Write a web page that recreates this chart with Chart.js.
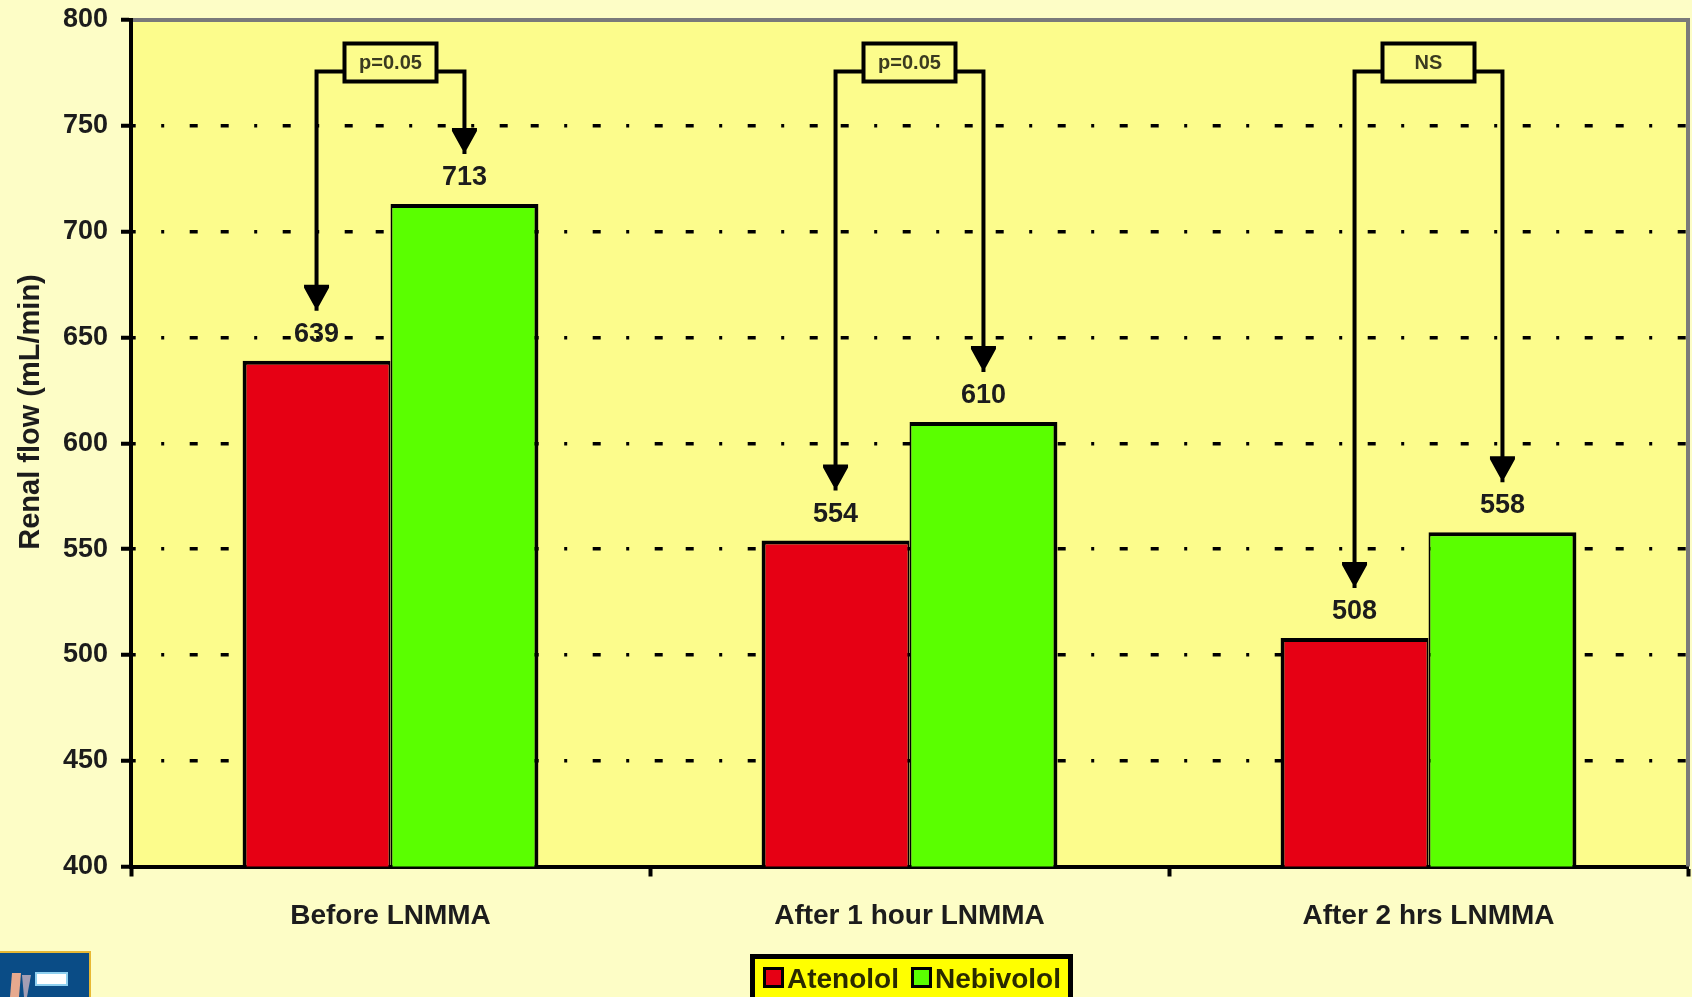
<!DOCTYPE html>
<html>
<head>
<meta charset="utf-8">
<title>Renal flow – Atenolol vs Nebivolol</title>
<script src="https://cdn.jsdelivr.net/npm/chart.js@4.4.1/dist/chart.umd.min.js"></script>
<style>
  html, body { margin: 0; padding: 0; background: #FDFDC6; }
  #wrap { position: relative; width: 1692px; height: 997px; }
  canvas { display: block; }
</style>
</head>
<body>
<div id="wrap"><canvas id="flowChart" width="1692" height="997"></canvas></div>
<script>
// ---- data ----
const categories = ['Before LNMMA', 'After 1 hour LNMMA', 'After 2 hrs LNMMA'];
const seriesNames = ['Atenolol', 'Nebivolol'];
const atenolol = [639, 554, 508];
const nebivolol = [713, 610, 558];
const flowTicks = [400, 450, 500, 550, 600, 650, 700, 750, 800];
const comparisons = ['p=0.05', 'p=0.05', 'NS'];
const yTitle = 'Renal flow (mL/min)';

// ---- styles ----
const FONT = '"Liberation Sans", Arial, Helvetica, sans-serif';
const PAGE_BG = '#FDFDC6';
const PLOT_BG = '#FCFC8C';
const RED = '#E60014';
const GREEN = '#5AFF00';
const TEXT = '#1c1c1c';
const GRID_DASH = [8, 25.5, 3, 25.5, 8, 23, 8, 25.5, 3, 25.5];

// page + plot background, drawn first
const backdrop = {
  id: 'backdrop',
  beforeDraw(chart) {
    const { ctx, chartArea: a } = chart;
    ctx.save();
    ctx.fillStyle = PAGE_BG;
    ctx.fillRect(0, 0, chart.width, chart.height);
    ctx.fillStyle = PLOT_BG;
    ctx.fillRect(a.left, a.top, a.right - a.left, a.bottom - a.top);
    ctx.restore();
  }
};

// value labels, comparison brackets, frame, legend, axis title, corner logo
const overlay = {
  id: 'overlay',
  afterDatasetsDraw(chart) {
    const { ctx, chartArea: a } = chart;
    const xs = chart.scales.x;
    const metas = [chart.getDatasetMeta(0), chart.getDatasetMeta(1)];

    ctx.save();
    // value labels above each bar
    ctx.fillStyle = TEXT;
    ctx.font = 'bold 27px ' + FONT;
    ctx.textAlign = 'center';
    ctx.textBaseline = 'alphabetic';
    metas.forEach((m, d) => {
      m.data.forEach((bar, i) => {
        const v = chart.data.datasets[d].data[i];
        ctx.fillText(String(v), bar.x, bar.y - 19);
      });
    });

    // brackets with arrow heads and the comparison box
    const head = (x, yTop) => {
      ctx.beginPath();
      ctx.moveTo(x - 12.5, yTop);
      ctx.lineTo(x + 12.5, yTop);
      ctx.lineTo(x + 12.5, yTop + 3);
      ctx.lineTo(x + 2, yTop + 22);
      ctx.lineTo(x + 2, yTop + 26);
      ctx.lineTo(x - 2, yTop + 26);
      ctx.lineTo(x - 2, yTop + 22);
      ctx.lineTo(x - 12.5, yTop + 3);
      ctx.closePath();
      ctx.fill();
    };
    const lineY = a.top + 51.5;
    const boxW = 92, boxH = 38, boxTop = a.top + 23.5;
    categories.forEach((c, i) => {
      const barA = metas[0].data[i], barN = metas[1].data[i];
      const cx = xs.getPixelForValue(i);
      const headA = barA.y - 76, headN = barN.y - 76;
      ctx.strokeStyle = '#000';
      ctx.fillStyle = '#000';
      ctx.lineWidth = 4;
      ctx.lineJoin = 'miter';
      ctx.lineCap = 'butt';
      ctx.setLineDash([]);
      ctx.beginPath();
      ctx.moveTo(barA.x, headA + 1);
      ctx.lineTo(barA.x, lineY);
      ctx.lineTo(cx - boxW / 2, lineY);
      ctx.moveTo(cx + boxW / 2, lineY);
      ctx.lineTo(barN.x, lineY);
      ctx.lineTo(barN.x, headN + 1);
      ctx.stroke();
      head(barA.x, headA);
      head(barN.x, headN);
      ctx.fillStyle = PLOT_BG;
      ctx.fillRect(cx - boxW / 2, boxTop, boxW, boxH);
      ctx.lineWidth = 4;
      ctx.strokeRect(cx - boxW / 2, boxTop, boxW, boxH);
      ctx.fillStyle = '#3a3a20';
      ctx.font = 'bold 20px ' + FONT;
      ctx.textAlign = 'center';
      ctx.textBaseline = 'middle';
      ctx.fillText(comparisons[i], cx, boxTop + boxH / 2 + 1);
    });

    // grey frame on top and right of the plot
    ctx.strokeStyle = '#7A7A7A';
    ctx.lineWidth = 4;
    ctx.beginPath();
    ctx.moveTo(a.left, a.top);
    ctx.lineTo(a.right, a.top);
    ctx.lineTo(a.right, a.bottom);
    ctx.stroke();

    // vertical axis title
    ctx.fillStyle = TEXT;
    ctx.font = 'bold 29px ' + FONT;
    ctx.textAlign = 'center';
    ctx.textBaseline = 'alphabetic';
    ctx.save();
    ctx.translate(39, 412);
    ctx.rotate(-Math.PI / 2);
    ctx.fillText(yTitle, 0, 0);
    ctx.restore();

    // legend box
    ctx.font = 'bold 28px ' + FONT;
    const sq = 21, gapT = 3, gapI = 12, padL = 8, padR = 7, bw = 5;
    const widths = seriesNames.map(n => ctx.measureText(n).width);
    const inner = padL + sq + gapT + widths[0] + gapI + sq + gapT + widths[1] + padR;
    const lcx = (a.left + a.right) / 2 + 2;
    const lx = lcx - inner / 2;
    const ly = 954;
    ctx.fillStyle = '#FFFF00';
    ctx.fillRect(lx, ly + bw / 2, inner, 60);
    ctx.strokeStyle = '#000';
    ctx.lineWidth = bw;
    ctx.strokeRect(lx - bw / 2, ly + bw / 2, inner + bw, 60);
    let px = lx + padL;
    const base = 988;
    const colors = [RED, GREEN];
    seriesNames.forEach((n, k) => {
      ctx.fillStyle = colors[k];
      ctx.fillRect(px, base - sq, sq, sq);
      ctx.lineWidth = 3;
      ctx.strokeStyle = '#000';
      ctx.strokeRect(px + 1.5, base - sq + 1.5, sq - 3, sq - 3);
      px += sq + gapT;
      ctx.fillStyle = '#2a2a00';
      ctx.textAlign = 'left';
      ctx.fillText(n, px, base);
      px += widths[k] + gapI;
    });

    // small corner logo
    ctx.fillStyle = '#0A4C86';
    ctx.fillRect(0, 952, 90, 50);
    ctx.strokeStyle = '#E8B834';
    ctx.lineWidth = 2;
    ctx.strokeRect(-2, 952, 92, 50);
    ctx.fillStyle = '#E7A98E';
    ctx.beginPath();
    ctx.moveTo(12, 973); ctx.lineTo(21, 973); ctx.lineTo(19, 997); ctx.lineTo(10, 997);
    ctx.closePath(); ctx.fill();
    ctx.fillStyle = '#A39DB3';
    ctx.beginPath();
    ctx.moveTo(22, 975); ctx.lineTo(31, 975); ctx.lineTo(27, 997); ctx.lineTo(24, 997);
    ctx.closePath(); ctx.fill();
    ctx.fillStyle = '#8FD0F0';
    ctx.fillRect(35, 972, 33, 14);
    ctx.fillStyle = '#FFFFFF';
    ctx.fillRect(37, 974, 29, 10);
    ctx.restore();
  }
};

// solid left axis line, drawn after the (dashed) grid
const leftAxisLine = {
  id: 'leftAxisLine',
  afterDatasetsDraw(chart) {
    const { ctx, chartArea: a } = chart;
    ctx.save();
    ctx.strokeStyle = '#000';
    ctx.lineWidth = 4;
    ctx.setLineDash([]);
    ctx.beginPath();
    ctx.moveTo(a.left, a.top - 2);
    ctx.lineTo(a.left, a.bottom);
    ctx.stroke();
    ctx.restore();
  }
};

const isFrameTick = c => c.tick && (c.tick.value === flowTicks[0] || c.tick.value === flowTicks[flowTicks.length - 1]);

new Chart(document.getElementById('flowChart'), {
  type: 'bar',
  data: {
    labels: categories,
    datasets: [
      {
        label: seriesNames[0],
        data: atenolol,
        backgroundColor: RED,
        borderColor: '#000',
        borderWidth: { top: 4, left: 4, right: 2, bottom: 0 },
        borderSkipped: 'bottom'
      },
      {
        label: seriesNames[1],
        data: nebivolol,
        backgroundColor: GREEN,
        borderColor: '#000',
        borderWidth: { top: 4, left: 2, right: 4, bottom: 0 },
        borderSkipped: 'bottom'
      }
    ]
  },
  options: {
    responsive: false,
    animation: false,
    devicePixelRatio: 1,
    layout: { padding: { top: 20, right: 4, bottom: 40.5, left: 0 } },
    datasets: { bar: { categoryPercentage: 0.57, barPercentage: 1 } },
    plugins: { legend: { display: false }, tooltip: { enabled: false } },
    scales: {
      x: {
        type: 'category',
        offset: true,
        z: 1,
        afterFit: s => { s.height = 90; s.paddingLeft = 0; s.paddingRight = 0; },
        grid: { offset: true, drawOnChartArea: false, drawTicks: true, tickLength: 10, tickWidth: 4, tickColor: '#000' },
        border: { display: true, color: '#000', width: 4 },
        ticks: {
          color: TEXT,
          font: { family: FONT, size: 28, weight: 'bold' },
          padding: 23,
          maxRotation: 0,
          autoSkip: false
        }
      },
      y: {
        type: 'linear',
        min: flowTicks[0],
        max: flowTicks[flowTicks.length - 1],
        afterBuildTicks: s => { s.ticks = flowTicks.map(v => ({ value: v })); },
        afterFit: s => { s.width = 131; s.paddingTop = 0; s.paddingBottom = 0; },
        grid: {
          color: c => isFrameTick(c) ? 'rgba(0,0,0,0)' : '#000',
          lineWidth: 3.5,
          drawTicks: true,
          tickLength: 10,
          tickWidth: 4,
          tickColor: '#000',
          tickBorderDash: []
        },
        border: { display: true, color: '#000', width: 4, dash: GRID_DASH, dashOffset: 5.3 },
        ticks: {
          color: TEXT,
          font: { family: FONT, size: 27, weight: 'bold' },
          padding: 13
        }
      }
    }
  },
  plugins: [backdrop, overlay, leftAxisLine]
});
</script>
</body>
</html>
